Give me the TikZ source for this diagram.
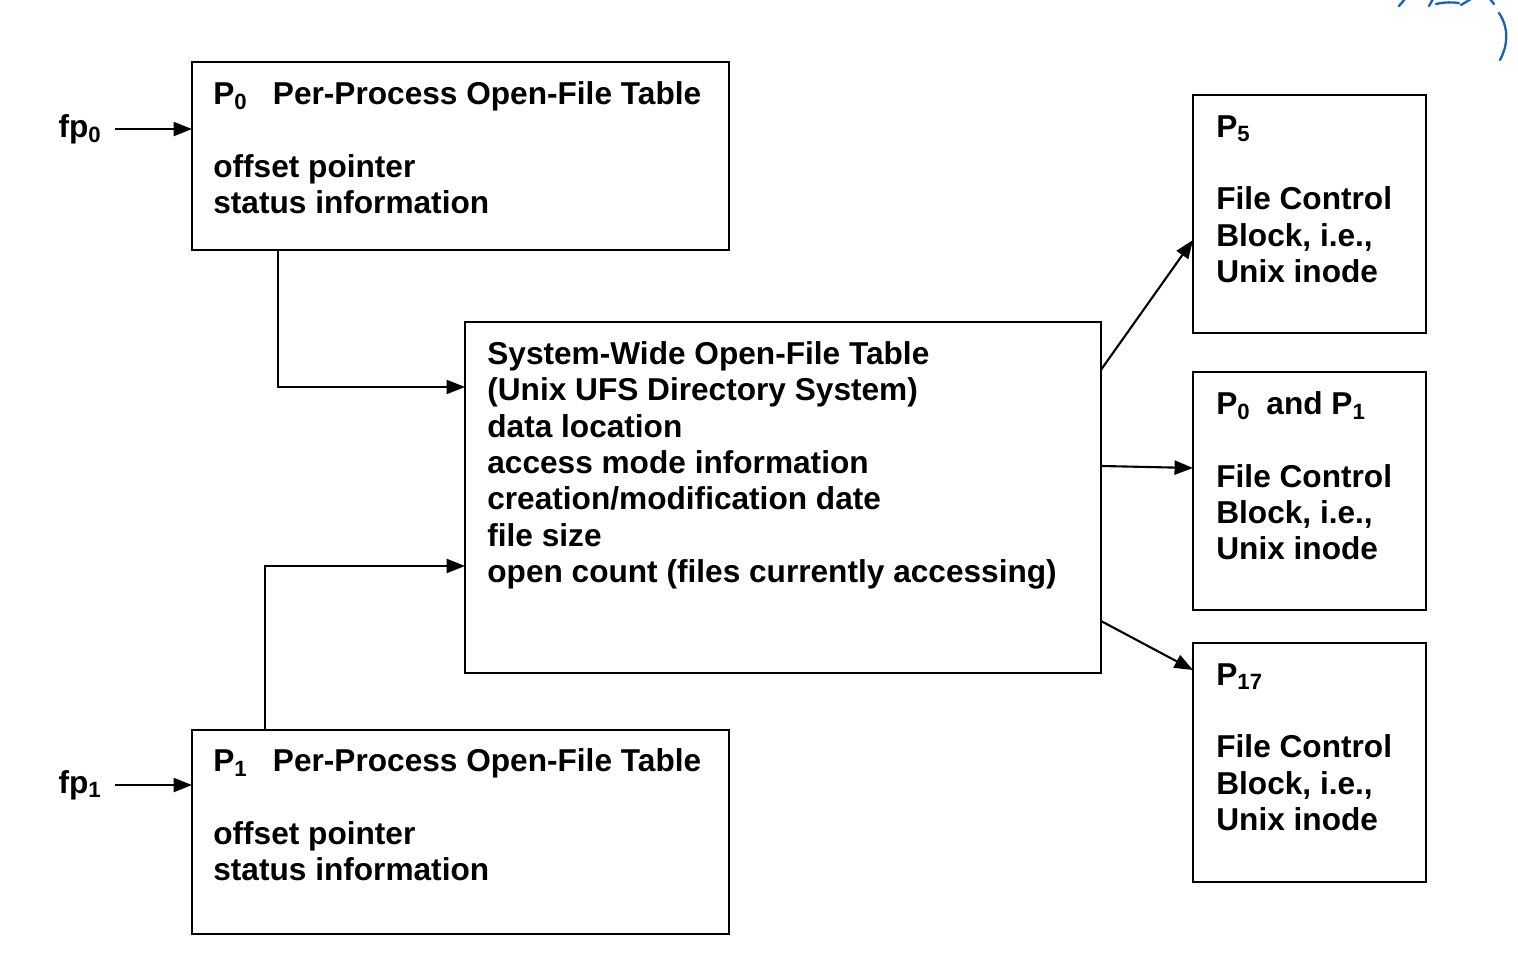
\documentclass[tikz,border=0pt]{standalone}
\usepackage{fontspec}
\setmainfont{Liberation Sans}
\usetikzlibrary{arrows.meta}
\definecolor{inkblue}{RGB}{25,95,190}
\begin{document}
\begin{tikzpicture}[x=0.02cm,y=-0.02cm,
  box/.style={draw, line width=1.2pt, anchor=north west, inner sep=0pt, outer sep=0pt},
  txt/.style={anchor=north west, inner sep=0pt, align=left, font=\fontsize{18}{20.7}\selectfont\bfseries},
  lbl/.style={anchor=east, inner sep=0pt, font=\fontsize{18}{20.7}\selectfont\bfseries},
  arr/.style={line width=1.2pt, -{Triangle[length=10.5pt,width=8pt]}},
  ink/.style={draw=inkblue, line width=1.3pt, line cap=round}]
\useasboundingbox (0,0) rectangle (1518,958);

% boxes
\node[box, minimum width=10.74cm, minimum height=3.76cm] (p0tab) at (192,62) {};
\node[box, minimum width=10.74cm, minimum height=4.08cm] (p1tab) at (192,730) {};
\node[box, minimum width=12.72cm, minimum height=7.02cm] (sys) at (465,322) {};
\node[box, minimum width=4.66cm, minimum height=4.76cm] (fcb5) at (1193,95) {};
\node[box, minimum width=4.66cm, minimum height=4.76cm] (fcb01) at (1193,372) {};
\node[box, minimum width=4.66cm, minimum height=4.78cm] (fcb17) at (1193,643) {};

% texts
\node[txt] (p0txt) at (213,81) {P\textsubscript{0}\hspace{0.8em}Per-Process Open-File Table\\[20.7pt]offset pointer\\status information};
\node[txt] (p1txt) at (213,748) {P\textsubscript{1}\hspace{0.8em}Per-Process Open-File Table\\[20.7pt]offset pointer\\status information};
\node[txt] (systxt) at (487,341) {System-Wide Open-File Table\\(Unix UFS Directory System)\\data location\\access mode information\\creation/modification date\\file size\\open count (files currently accessing)};
\node[txt] (fcb5txt) at (1216,115) {P\textsubscript{5}\\[20.7pt]File Control\\Block, i.e.,\\Unix inode};
\node[txt] (fcb01txt) at (1216,391) {P\textsubscript{0}\hspace{0.5em}and P\textsubscript{1}\\[20.7pt]File Control\\Block, i.e.,\\Unix inode};
\node[txt] (fcb17txt) at (1216,663) {P\textsubscript{17}\\[20.7pt]File Control\\Block, i.e.,\\Unix inode};

% fp labels
\node[lbl] (fp0) at (102,129) {fp\textsubscript{0}};
\node[lbl] (fp1) at (102,785) {fp\textsubscript{1}};

% connectors
\draw[arr] ([xshift=0.26cm]fp0.east) -- (fp0.east -| p0tab.west);
\draw[arr] ([xshift=0.26cm]fp1.east) -- (fp1.east -| p1tab.west);
\draw[arr] ([xshift=1.72cm]p0tab.south west) |- ([yshift=-1.3cm]sys.north west);
\draw[arr] ([xshift=1.46cm]p1tab.north west) |- ([yshift=-4.88cm]sys.north west);
\draw[arr] ([yshift=-0.96cm]sys.north east) -- ([yshift=-2.9cm]fcb5.north west);
\draw[arr] ([yshift=-2.88cm]sys.north east) -- ([yshift=-1.92cm]fcb01.north west);
\draw[arr] ([yshift=-5.98cm]sys.north east) -- ([yshift=-0.54cm]fcb17.north west);

% blue handwritten fragments (top right)
\draw[ink] (1399,6) -- (1405,-1);
\draw[ink] (1429,6) -- (1433,-1);
\draw[ink] (1436,4) .. controls (1445,2) and (1452,2) .. (1459,3);
\draw[ink] (1461,5) -- (1471,-1);
\draw[ink] (1490,-1) -- (1494,4);
\draw[ink] (1499,13) .. controls (1509,28) and (1508,45) .. (1500,60);
\end{tikzpicture}
\end{document}
